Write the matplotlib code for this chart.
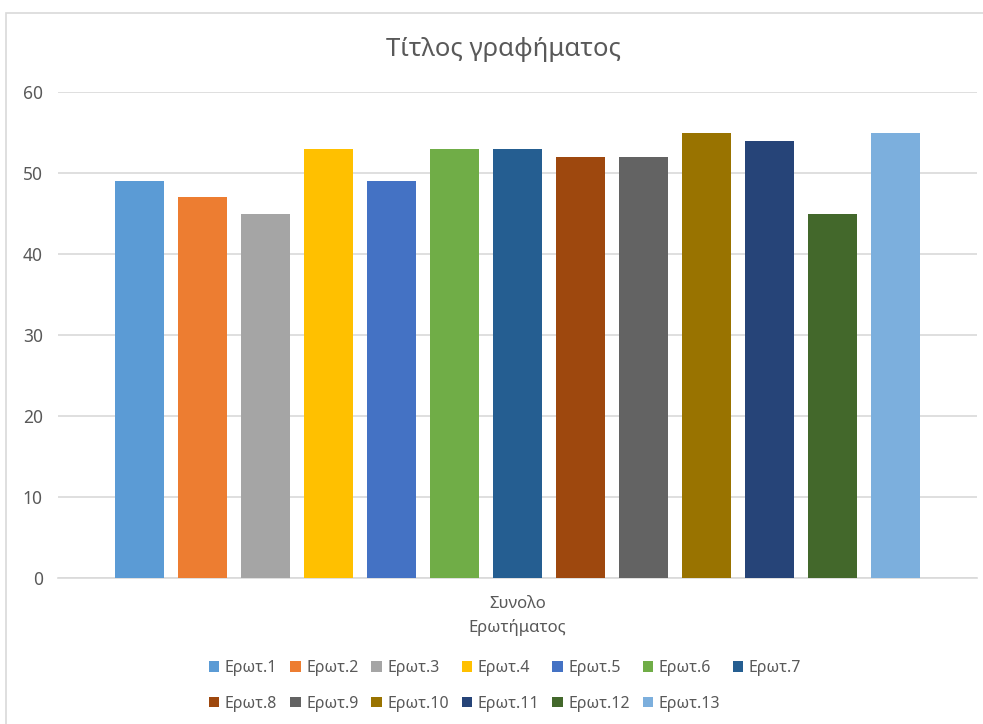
import matplotlib
matplotlib.use("Agg")
import matplotlib.pyplot as plt
from matplotlib.patches import Patch, Rectangle

plt.rcParams["font.family"] = ["Noto Sans", "DejaVu Sans"]

# data
series_names = ["Ερωτ.%d" % i for i in range(1, 14)]
values = [49, 47, 45, 53, 49, 53, 53, 52, 52, 55, 54, 45, 55]
colors = ["#5B9BD5", "#ED7D31", "#A5A5A5", "#FFC000", "#4472C4", "#70AD47", "#255E91",
          "#9E480E", "#636363", "#997300", "#264478", "#43682B", "#7CAFDD"]
category = "Συνολο\nΕρωτήματος"
title = "Τίτλος γραφήματος"
yticks = [0, 10, 20, 30, 40, 50, 60]

W, H = 983, 724
text_color = "#595959"
grid_color = "#d9d9d9"

fig = plt.figure(figsize=(W / 100, H / 100), dpi=100)
ax = fig.add_axes([58 / W, 1 - 578 / H, (977 - 58) / W, (578 - 92) / H])

# chart area border
fig.patches.append(Rectangle((6 / W, -0.05), 1.1, 1.05 - 13 / H, transform=fig.transFigure,
                             fill=False, edgecolor=grid_color, linewidth=1.2, zorder=0))

handles = []
for i, (name, v, c) in enumerate(zip(series_names, values, colors)):
    ax.bar(i, v, width=0.786, color=c, zorder=3)
    handles.append(Patch(facecolor=c, label=name))

center = (len(values) - 1) / 2
half = (977 - 58) / 63 / 2
ax.set_xlim(center - half, center + half)
ax.set_ylim(0, 60)
ax.set_yticks(yticks)
ax.set_xticks([center])
ax.set_xticklabels([category], fontsize=12, color=text_color, linespacing=1.5)
ax.tick_params(axis="y", length=0, labelsize=12.5, labelcolor=text_color, pad=11)
ax.tick_params(axis="x", length=0, pad=13)
ax.yaxis.grid(True, color=grid_color, linewidth=1.2, zorder=0)
for s in ["top", "right", "left"]:
    ax.spines[s].set_visible(False)
ax.spines["bottom"].set_color(grid_color)
ax.spines["bottom"].set_linewidth(1.2)

fig.text(504 / W, 1 - 50 / H, title, ha="center", va="center",
         fontsize=18.5, color=text_color)

# row-major order for a 7-column legend
ncol = 7
order = []
for col in range(ncol):
    for row in range(2):
        k = row * ncol + col
        if k < len(handles):
            order.append(k)
fig.legend([handles[k] for k in order], [series_names[k] for k in order],
           loc="center", bbox_to_anchor=(505 / W, 1 - 686 / H), ncol=ncol,
           frameon=False, fontsize=11.5, labelcolor=text_color,
           handlelength=0.65, handleheight=0.65, handletextpad=0.35,
           columnspacing=0.8, labelspacing=1.2)

fig.savefig("out.png", dpi=100)
